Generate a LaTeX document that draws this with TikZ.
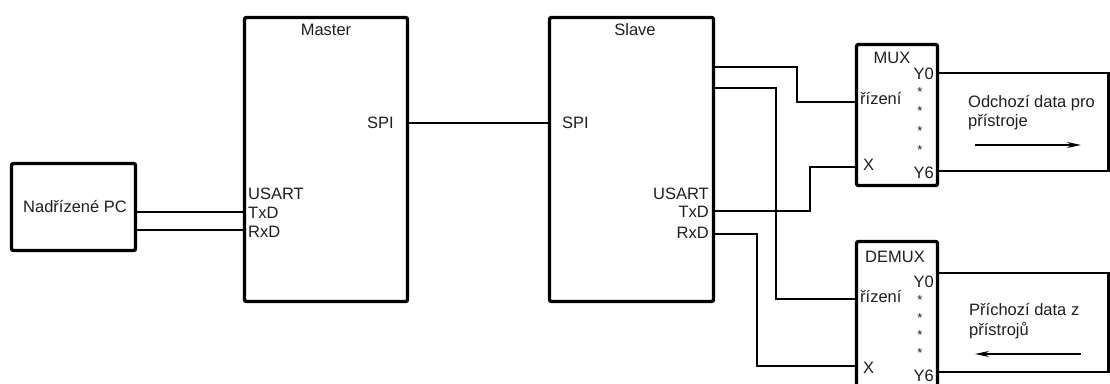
\documentclass[tikz,border=0pt]{standalone}
\usepackage{fontspec}
\setmainfont{Liberation Sans}
\usetikzlibrary{arrows.meta}
\begin{document}
\begin{tikzpicture}[x=1pt,y=-1pt,
  blk/.style={draw,line width=3.4pt,rounded corners=2pt,inner sep=0pt,outer sep=0pt,anchor=north west},
  wire/.style={line width=2.3pt},
  lbl/.style={inner sep=0pt,font=\fontsize{16.5}{19}\selectfont,text=black!88},
  dot/.style={inner sep=0pt,font=\fontsize{13}{14}\selectfont,text=black!88}
]
\clip (0,0) rectangle (1110,383);
\fill[white] (0,0) rectangle (1110,383);

% boxes
\node[blk,minimum width=124pt,minimum height=87pt] (pc) at (11.5,163.5) {};
\node[blk,minimum width=163pt,minimum height=284pt] (master) at (244.5,17.5) {};
\node[blk,minimum width=164pt,minimum height=284pt] (slave) at (549.5,17.5) {};
\node[blk,minimum width=81pt,minimum height=141pt] (mux) at (856.5,44.5) {};
\node[blk,minimum width=81pt,minimum height=160pt] (demux) at (856.5,241.5) {};

% labels
\node[lbl] (pct) at (75,207) {Nadřízené PC};
\node[lbl,anchor=base] (mt) at (326,35) {Master};
\node[lbl,anchor=base east] (mspi) at (394,128) {SPI};
\node[lbl,anchor=base west] (mus) at (248,199) {USART};
\node[lbl,anchor=base west] (mtx) at (248,218) {TxD};
\node[lbl,anchor=base west] (mrx) at (248,237) {RxD};

\node[lbl,anchor=base] (st) at (635,35) {Slave};
\node[lbl,anchor=base west] (sspi) at (562,128) {SPI};
\node[lbl,anchor=base east] (sus) at (709,199) {USART};
\node[lbl,anchor=base east] (stx) at (709,217) {TxD};
\node[lbl,anchor=base east] (srx) at (709,238) {RxD};

\node[lbl,anchor=base] (mxt) at (892,63) {MUX};
\node[lbl,anchor=base east] (my0) at (934,79) {Y0};
\node[lbl,anchor=base west] (mriz) at (860,104) {řízení};
\node[lbl,anchor=base west] (mx) at (863,170) {X};
\node[lbl,anchor=base east] (my6) at (934,178) {Y6};
\foreach \yy [count=\i] in {92,111,131,150}
  \node[dot] (md\i) at (920,\yy) {*};

\node[lbl,anchor=base] (dxt) at (895,262) {DEMUX};
\node[lbl,anchor=base east] (dy0) at (934,287) {Y0};
\node[lbl,anchor=base west] (driz) at (860,302) {řízení};
\node[lbl,anchor=base west] (dx) at (863,373) {X};
\node[lbl,anchor=base east] (dy6) at (934,381) {Y6};
\foreach \yy [count=\i] in {300,318,335,353}
  \node[dot] (dd\i) at (920,\yy) {*};

\node[lbl,anchor=base west] (out1) at (968,107) {Odchozí data pro};
\node[lbl,anchor=base west] (out2) at (968,126) {přístroje};
\node[lbl,anchor=base west] (in1) at (969,315) {Příchozí data z};
\node[lbl,anchor=base west] (in2) at (969,335) {přístrojů};

% arrows
\coordinate (a1s) at (975,145); \coordinate (a1e) at (1081,145);
\draw[line width=1.3pt,-{Stealth[length=14pt,width=6pt]}] (a1s) -- (a1e);
\coordinate (a2s) at (1081,354); \coordinate (a2e) at (975,354);
\draw[line width=1.3pt,-{Stealth[length=14pt,width=6pt]}] (a2s) -- (a2e);

% level coordinates
\coordinate (yTx) at (0,212);
\coordinate (yRx) at (0,230);
\coordinate (ySpi) at (0,123);
\coordinate (yC1) at (0,67);
\coordinate (yC2) at (0,88);
\coordinate (ySTx) at (0,211);
\coordinate (ySRx) at (0,234);
\coordinate (yMr) at (0,102);
\coordinate (yMx) at (0,167);
\coordinate (yDr) at (0,299);
\coordinate (yDx) at (0,366);
\coordinate (yMy0) at (0,73);
\coordinate (yMy6) at (0,171);
\coordinate (yDy0) at (0,273);
\coordinate (yDy6) at (0,372);
\coordinate (xR) at (1108.5,0);

% wires
\draw[wire] (pc.east |- yTx) -- (master.west |- yTx);
\draw[wire] (pc.east |- yRx) -- (master.west |- yRx);
\draw[wire] (master.east |- ySpi) -- (slave.west |- ySpi);

\draw[wire] (slave.east |- yC1) -| (797,102) -- (mux.west |- yMr);
\draw[wire] (slave.east |- yC2) -| (776,299) -- (demux.west |- yDr);
\draw[wire] (slave.east |- ySTx) -| (810,167) -- (mux.west |- yMx);
\draw[wire] (slave.east |- ySRx) -| (757,366) -- (demux.west |- yDx);

\draw[wire] (mux.east |- yMy0) -- (xR |- yMy0) -- (xR |- yMy6) -- (mux.east |- yMy6);
\draw[wire] (demux.east |- yDy0) -- (xR |- yDy0) -- (xR |- yDy6) -- (demux.east |- yDy6);
\end{tikzpicture}
\end{document}
